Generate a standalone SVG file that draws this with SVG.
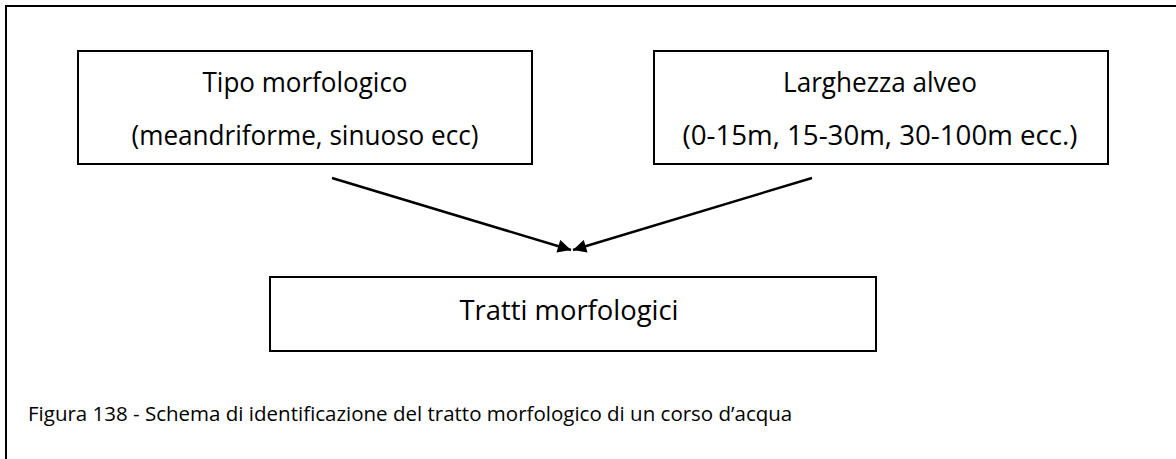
<svg xmlns="http://www.w3.org/2000/svg" width="1176" height="459" viewBox="0 0 1176 459">
<defs>
<style>
.box{fill:#fff;stroke:#000;stroke-width:2}
.t{font-family:"Open Sans","Noto Sans",sans-serif;fill:#000;text-anchor:middle;font-size:27px}
.conn{stroke:#000;stroke-width:2.4;fill:none}
</style>
<marker id="ah" viewBox="0 0 10 10" refX="10" refY="5" markerWidth="6" markerHeight="5.5" markerUnits="strokeWidth" orient="auto">
<path d="M0,0 L10,5 L0,10 z" fill="#000"/>
</marker>
</defs>
<rect x="0" y="0" width="1176" height="459" fill="#fff"/>
<path d="M6,470 L6,6 L1190,6" fill="none" stroke="#000" stroke-width="2"/>
<g id="node-tipo">
<rect class="box" x="78" y="51" width="454" height="113"/>
<text class="t" x="305" y="92" textLength="205" lengthAdjust="spacingAndGlyphs">Tipo morfologico</text>
<text class="t" x="305" y="145" textLength="347" lengthAdjust="spacingAndGlyphs">(meandriforme, sinuoso ecc)</text>
</g>
<g id="node-larghezza">
<rect class="box" x="654" y="51" width="454" height="113"/>
<text class="t" x="880" y="92" textLength="194" lengthAdjust="spacingAndGlyphs">Larghezza alveo</text>
<text class="t" x="880" y="145" textLength="395" lengthAdjust="spacingAndGlyphs">(0-15m, 15-30m, 30-100m ecc.)</text>
</g>
<g id="node-tratti">
<rect class="box" x="270" y="277" width="606" height="74"/>
<text class="t" x="569" y="320" textLength="219" lengthAdjust="spacingAndGlyphs">Tratti morfologici</text>
</g>
<g id="connectors">
<line class="conn" x1="332" y1="178" x2="571" y2="250" marker-end="url(#ah)"/>
<line class="conn" x1="812" y1="178" x2="573" y2="250" marker-end="url(#ah)"/>
</g>
<g id="caption">
<text x="28" y="421" font-size="20.5" font-family="Open Sans, Noto Sans, sans-serif" fill="#000">Figura 138 - Schema di identificazione del tratto morfologico di un corso d’acqua</text>
</g>
</svg>
